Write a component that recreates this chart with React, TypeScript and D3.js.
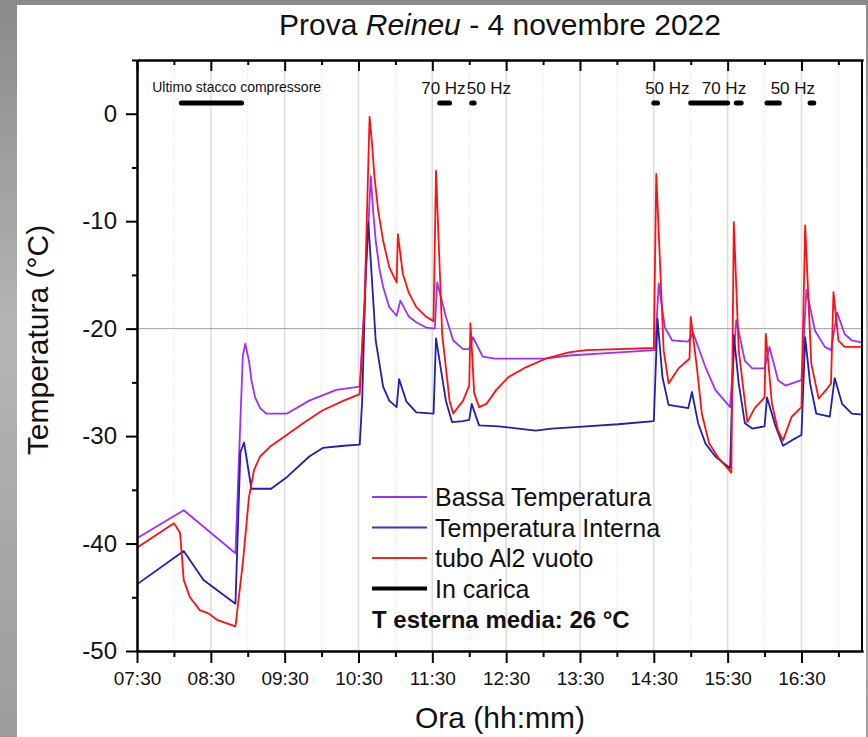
import React, { useRef, useEffect } from 'react';
import * as d3 from 'd3';

const WIDTH = 868;
const HEIGHT = 737;
const FONT = 'Liberation Sans, Arial, sans-serif';

// Bassa Temperatura (viola)
const bassa: [string, number][] = [
  ['07:30', -39.5], ['08:08', -36.9], ['08:50', -40.9], ['08:56', -22.5], ['08:58', -21.4],
  ['09:01', -23.0], ['09:03', -24.8], ['09:06', -26.4], ['09:10', -27.4], ['09:15', -27.9],
  ['09:32', -27.9], ['09:50', -26.7],
  ['10:12', -25.7], ['10:31', -25.4], ['10:35', -17.4], ['10:40', -5.8], ['10:42', -9.2],
  ['10:44', -11.8], ['10:47', -14.4],
  ['10:50', -16.1], ['10:55', -18.0], ['11:01', -18.8], ['11:04', -17.4], ['11:11', -18.9],
  ['11:17', -19.4], ['11:25', -19.9], ['11:32', -20.0], ['11:34', -15.7], ['11:41', -18.9],
  ['11:47', -21.1], ['11:55', -21.9], ['12:00', -21.9], ['12:03', -20.8], ['12:11', -22.6],
  ['12:21', -22.8], ['13:02', -22.8], ['13:21', -22.5], ['14:02', -22.2], ['14:31', -22.0],
  ['14:34', -15.8], ['14:39', -19.9], ['14:45', -21.1], ['14:58', -21.2], ['15:02', -20.4],
  ['15:12', -23.6], ['15:20', -25.7], ['15:32', -27.3], ['15:37', -19.2], ['15:44', -23.0],
  ['15:50', -23.7], ['16:00', -23.7], ['16:04', -21.7], ['16:11', -24.8], ['16:17', -25.3],
  ['16:30', -24.8], ['16:34', -16.4], ['16:41', -20.2], ['16:49', -21.7], ['16:54', -22.0],
  ['16:59', -18.5], ['17:05', -20.5], ['17:11', -21.1], ['17:20', -21.3]
];

// Temperatura Interna (blu)
const interna: [string, number][] = [
  ['07:30', -43.8], ['08:08', -40.7], ['08:24', -43.4], ['08:50', -45.6], ['08:54', -31.5],
  ['08:57', -30.6], ['09:03', -34.9], ['09:19', -34.9], ['09:32', -33.8], ['09:50', -31.9],
  ['10:01', -31.1], ['10:18', -30.9], ['10:31', -30.8], ['10:33', -26.7], ['10:36', -14.3],
  ['10:38', -10.1], ['10:42', -17.4], ['10:44', -21.1], ['10:50', -25.4], ['10:55', -26.7],
  ['11:01', -27.3], ['11:03', -24.7], ['11:09', -26.8], ['11:17', -27.8], ['11:31', -27.9],
  ['11:33', -20.9], ['11:41', -26.7], ['11:46', -28.7], ['11:55', -28.6], ['12:00', -28.5],
  ['12:02', -27.0], ['12:08', -29.0], ['12:24', -29.1], ['12:40', -29.3], ['12:54', -29.5],
  ['13:07', -29.3], ['13:35', -29.1], ['14:01', -28.9], ['14:30', -28.6], ['14:33', -19.1],
  ['14:37', -24.5], ['14:42', -27.1], ['14:58', -27.4], ['15:01', -25.9], ['15:06', -28.8],
  ['15:12', -30.7], ['15:20', -31.9], ['15:32', -33.0], ['15:35', -20.6], ['15:39', -25.1],
  ['15:44', -28.8], ['15:50', -29.3], ['16:00', -29.1], ['16:02', -26.4], ['16:09', -29.1],
  ['16:15', -30.9], ['16:22', -30.4], ['16:30', -29.9], ['16:33', -20.8], ['16:37', -25.1],
  ['16:42', -27.9], ['16:53', -28.2], ['16:57', -24.6], ['17:03', -27.0], ['17:11', -27.9],
  ['17:20', -28.0]
];

// tubo Al2 vuoto (rosso)
const tubo: [string, number][] = [
  ['07:30', -40.4], ['08:00', -38.1], ['08:05', -39.0], ['08:08', -43.4], ['08:13', -45.0],
  ['08:21', -46.2], ['08:28', -46.5], ['08:35', -47.1], ['08:50', -47.7], ['08:56', -41.8],
  ['09:01', -35.7], ['09:05', -33.2], ['09:10', -31.9], ['09:18', -31.0], ['09:29', -30.1],
  ['09:45', -28.8], ['10:01', -27.6], ['10:18', -26.7], ['10:31', -26.1], ['10:35', -17.4],
  ['10:39', -0.3], ['10:41', -2.8], ['10:43', -5.9], ['10:46', -9.0], ['10:50', -11.8],
  ['10:55', -14.3], ['11:01', -15.7],
  ['11:02', -11.2], ['11:06', -14.9], ['11:11', -16.7], ['11:17', -18.0], ['11:25', -18.9],
  ['11:31', -19.3], ['11:33', -5.3], ['11:38', -20.5], ['11:44', -26.7], ['11:47', -27.9],
  ['11:55', -26.7], ['12:00', -25.3], ['12:01', -19.5], ['12:04', -26.0], ['12:08', -27.3],
  ['12:14', -27.0], ['12:22', -25.7], ['12:32', -24.5], ['12:46', -23.6], ['13:02', -22.8],
  ['13:21', -22.2], ['13:35', -22.0], ['14:01', -21.9], ['14:30', -21.8], ['14:32', -5.6],
  ['14:38', -22.0], ['14:42', -25.1], ['14:50', -23.7], ['14:59', -22.8], ['15:00', -18.9],
  ['15:05', -23.6], ['15:09', -27.9], ['15:15', -30.7], ['15:23', -32.1], ['15:33', -33.4],
  ['15:35', -10.1], ['15:39', -22.0], ['15:46', -28.7], ['15:52', -27.4], ['16:00', -26.4],
  ['16:01', -20.5], ['16:06', -27.0], ['16:11', -29.5], ['16:15', -30.4], ['16:22', -28.2],
  ['16:30', -27.3], ['16:33', -10.4], ['16:38', -23.3], ['16:44', -26.5], ['16:50', -25.7],
  ['16:54', -25.1], ['16:56', -16.6], ['17:00', -21.1], ['17:05', -21.7], ['17:20', -21.7]
];

// periodi "In carica"
const caricaStart = ['08:06', '11:36', '12:02', '14:30', '15:00', '15:37', '16:02', '16:37'];
const caricaEnd = ['08:55', '11:44', '12:04', '14:33', '15:30', '15:41', '16:12', '16:40'];
const caricaLevel = 1;

const noteTexts = ['Ultimo stacco compressore', '70 Hz', '50 Hz', '50 Hz', '70 Hz', '50 Hz'];
const noteTimes = ['08:51', '11:39', '12:16', '14:41', '15:27', '16:23'];

const xTickLabels = ['07:30', '08:30', '09:30', '10:30', '11:30', '12:30', '13:30', '14:30', '15:30', '16:30'];
const xMinorLabels = ['08:00', '09:00', '10:00', '11:00', '12:00', '13:00', '14:00', '15:00', '16:00', '17:00'];
const yTicks = [0, -10, -20, -30, -40, -50];
const yMinor = [5, -5, -15, -25, -35, -45];

const seriesNames = ['Bassa Temperatura', 'Temperatura Interna', 'tubo Al2 vuoto'];
const seriesColors = ['#9b30ff', '#1f1fb0', '#ff1010'];
const legendColors = ['#9b30ff', '#3535d0', '#ff2020'];

const toMin = (s: string) => {
  const [h, m] = s.split(':').map(Number);
  return h * 60 + m;
};

export default function App() {
  const svgRef = useRef<SVGSVGElement>(null);

  useEffect(() => {
    const svg = d3.select(svgRef.current);
    svg.selectAll('*').remove();

    const margin = { top: 60, right: 5, bottom: 86, left: 137 };
    const x = d3.scaleLinear()
      .domain([toMin('07:30'), toMin('17:20')])
      .range([margin.left, WIDTH - margin.right]);
    const y = d3.scaleLinear()
      .domain([-50, 5])
      .range([HEIGHT - margin.bottom, margin.top]);

    // photo-ish frame
    const defs = svg.append('defs');
    const grad = defs.append('linearGradient').attr('id', 'bg').attr('x1', 0).attr('x2', 0).attr('y1', 0).attr('y2', 1);
    grad.append('stop').attr('offset', '0%').attr('stop-color', '#8a8a8a');
    grad.append('stop').attr('offset', '45%').attr('stop-color', '#b5b5b5');
    grad.append('stop').attr('offset', '100%').attr('stop-color', '#9c9c9c');
    svg.append('rect').attr('width', WIDTH).attr('height', HEIGHT).attr('fill', 'url(#bg)');
    svg.append('rect').attr('x', 17).attr('y', 5).attr('width', 849).attr('height', HEIGHT - 5).attr('fill', '#ffffff');

    const [x0, x1] = x.range();
    const [yb, yt] = y.range();

    // grid
    const grid = svg.append('g');
    grid.selectAll('line.major')
      .data(xTickLabels)
      .join('line')
      .attr('x1', d => x(toMin(d))).attr('x2', d => x(toMin(d)))
      .attr('y1', yt).attr('y2', yb)
      .attr('stroke', '#dcdcdc').attr('stroke-width', 1.5);
    grid.selectAll('line.minor')
      .data(xMinorLabels)
      .join('line')
      .attr('x1', d => x(toMin(d))).attr('x2', d => x(toMin(d)))
      .attr('y1', yt).attr('y2', yb)
      .attr('stroke', '#dedede').attr('stroke-width', 1).attr('stroke-dasharray', '1,2');
    svg.append('line')
      .attr('x1', x0).attr('x2', x1)
      .attr('y1', y(-20)).attr('y2', y(-20))
      .attr('stroke', '#a0a0a0').attr('stroke-width', 1);

    // series
    const line = d3.line<[string, number]>()
      .x(d => x(toMin(d[0])))
      .y(d => y(d[1]));
    [bassa, interna, tubo].forEach((s, i) => {
      svg.append('path')
        .datum(s)
        .attr('fill', 'none')
        .attr('stroke', seriesColors[i])
        .attr('stroke-width', 1.8)
        .attr('stroke-linejoin', 'round')
        .attr('d', line);
    });

    // in carica bars
    svg.append('g')
      .selectAll('line')
      .data(caricaStart)
      .join('line')
      .attr('x1', d => x(toMin(d)))
      .attr('x2', (d, i) => x(toMin(caricaEnd[i])))
      .attr('y1', y(caricaLevel)).attr('y2', y(caricaLevel))
      .attr('stroke', '#000').attr('stroke-width', 5).attr('stroke-linecap', 'round');

    svg.append('g')
      .selectAll('text')
      .data(noteTexts)
      .join('text')
      .attr('x', (d, i) => x(toMin(noteTimes[i])))
      .attr('y', (d, i) => y(caricaLevel) - (i === 0 ? 11 : 9))
      .attr('text-anchor', 'middle')
      .attr('font-family', FONT)
      .attr('font-size', (d, i) => (i === 0 ? 14 : 17))
      .attr('fill', '#111')
      .text(d => d);

    // axes
    const bottom = svg.append('g').attr('transform', `translate(0,${yb})`)
      .call(d3.axisBottom(x).tickValues(xTickLabels.map(toMin)).tickFormat((d, i) => xTickLabels[i]).tickSize(12).tickSizeOuter(0).tickPadding(9));
    bottom.selectAll('text').attr('font-family', FONT).attr('font-size', 19).attr('fill', '#111');
    const bottomMinor = svg.append('g').attr('transform', `translate(0,${yb})`)
      .call(d3.axisBottom(x).tickValues(xMinorLabels.map(toMin)).tickFormat(() => '').tickSize(6).tickSizeOuter(0));
    const top = svg.append('g').attr('transform', `translate(0,${yt})`)
      .call(d3.axisTop(x).tickValues(xTickLabels.map(toMin)).tickFormat(() => '').tickSize(-11).tickSizeOuter(0));
    const topMinor = svg.append('g').attr('transform', `translate(0,${yt})`)
      .call(d3.axisTop(x).tickValues(xMinorLabels.map(toMin)).tickFormat(() => '').tickSize(-5).tickSizeOuter(0));
    const left = svg.append('g').attr('transform', `translate(${x0},0)`)
      .call(d3.axisLeft(y).tickValues(yTicks).tickFormat(d => String(d)).tickSize(11).tickSizeOuter(0).tickPadding(9));
    left.selectAll('text').attr('font-family', FONT).attr('font-size', 24).attr('fill', '#111');
    const leftMinor = svg.append('g').attr('transform', `translate(${x0},0)`)
      .call(d3.axisLeft(y).tickValues(yMinor).tickFormat(() => '').tickSize(5).tickSizeOuter(0));
    [bottom, bottomMinor, top, topMinor, left, leftMinor].forEach(g => {
      g.selectAll('path').attr('stroke', '#000').attr('stroke-width', 2);
      g.selectAll('line').attr('stroke', '#000').attr('stroke-width', 2);
    });
    svg.append('line')
      .attr('x1', x1 - 1).attr('x2', x1 - 1).attr('y1', yt).attr('y2', yb)
      .attr('stroke', '#000').attr('stroke-width', 2);

    // titles
    const title = svg.append('text')
      .attr('x', (x0 + x1) / 2).attr('y', 35)
      .attr('text-anchor', 'middle')
      .attr('font-family', FONT).attr('font-size', 30).attr('fill', '#111');
    title.append('tspan').text('Prova ');
    title.append('tspan').attr('font-style', 'italic').text('Reineu');
    title.append('tspan').text(' - 4 novembre 2022');

    svg.append('text')
      .attr('x', (x0 + x1) / 2).attr('y', 728)
      .attr('text-anchor', 'middle')
      .attr('font-family', FONT).attr('font-size', 30).attr('fill', '#111')
      .text('Ora (hh:mm)');
    svg.append('text')
      .attr('transform', `translate(48,340) rotate(-90)`)
      .attr('text-anchor', 'middle')
      .attr('font-family', FONT).attr('font-size', 30).attr('fill', '#111')
      .text('Temperatura (°C)');

    // legend
    const lg = svg.append('g').attr('transform', 'translate(372,497)');
    const rowH = 30.5;
    const entries = [...seriesNames, 'In carica'];
    entries.forEach((name, i) => {
      lg.append('line')
        .attr('x1', 0).attr('x2', 55)
        .attr('y1', i * rowH).attr('y2', i * rowH)
        .attr('stroke', i < 3 ? legendColors[i] : '#000')
        .attr('stroke-width', i < 3 ? 2 : 4);
      lg.append('text')
        .attr('x', 63).attr('y', i * rowH + 9)
        .attr('font-family', FONT).attr('font-size', 25).attr('fill', '#111')
        .text(name);
    });
    lg.append('text')
      .attr('x', 0).attr('y', 4 * rowH + 9)
      .attr('font-family', FONT).attr('font-size', 24).attr('font-weight', 'bold').attr('fill', '#111')
      .text('T esterna media: 26 °C');
  }, []);

  return (
    <svg
      ref={svgRef}
      width={WIDTH}
      height={HEIGHT}
      style={{ position: 'absolute', left: 0, top: 0, background: '#fff' }}
    />
  );
}
